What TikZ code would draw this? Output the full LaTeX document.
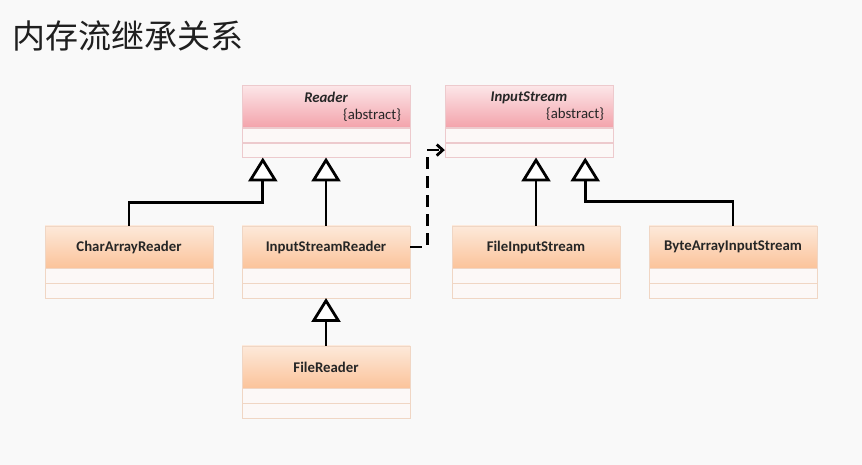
\documentclass[tikz,border=0pt]{standalone}
\usepackage{fontspec}
\setmainfont{Carlito}
\newfontfamily\cjk{Noto Sans CJK SC}
\usepackage{tikz}
\usetikzlibrary{shapes,arrows.meta,positioning}
\definecolor{pinktop}{HTML}{FCE6E8}
\definecolor{pinkbot}{HTML}{F3A3AB}
\definecolor{pinkline}{HTML}{EDCACD}
\definecolor{orangetop}{HTML}{FDE9DA}
\definecolor{orangebot}{HTML}{FBC39A}
\definecolor{orangeline}{HTML}{F0D6C4}
\definecolor{slotfill}{HTML}{FCF8F7}
\definecolor{bg}{HTML}{F9F9F9}
\tikzstyle{classhead} = [draw, rectangle, minimum width=168pt, minimum height=42pt, inner sep=0pt, text=black!85, font=\fontsize{14.8}{17}\selectfont\bfseries]
\tikzstyle{abstracthead} = [classhead, draw=pinkline, top color=pinktop, bottom color=pinkbot, text width=150pt, align=center]
\tikzstyle{concretehead} = [classhead, draw=orangeline, top color=orangetop, bottom color=orangebot]
\tikzstyle{slot} = [draw, fill=slotfill, rectangle, minimum width=168pt, minimum height=14.5pt, inner sep=0pt]
\tikzstyle{inherit} = [line width=2.8pt, -{Triangle[width=29pt,length=24pt,fill=white]}]
\tikzstyle{realize} = [line width=2.8pt, dash pattern=on 12pt off 7pt, -{Straight Barb[length=6pt,width=11pt]}]

\begin{document}
\begin{tikzpicture}[auto, x=1pt, y=1pt]
		\fill [bg] (0,0) rectangle (862,465);
		\useasboundingbox (0,0) rectangle (862,465);
		\node [anchor=west, inner sep=0pt, font=\cjk\fontsize{33}{36}\selectfont, text=black!88] (title) at (12,429) {内存流继承关系};
		
		% abstract classes
		\node [abstracthead] (reader) at (326,358.5) {\itshape Reader\\ \hfill\mdseries\upshape\{abstract\}};
		\node [slot, draw=pinkline, below=0pt of reader] (reader-attr) {};
		\node [slot, draw=pinkline, below=0pt of reader-attr] (reader-ops) {};
		\node [abstracthead, right of=reader, node distance=203pt] (istream) {\itshape InputStream\\ \hfill\mdseries\upshape\{abstract\}};
		\node [slot, draw=pinkline, below=0pt of istream] (istream-attr) {};
		\node [slot, draw=pinkline, below=0pt of istream-attr] (istream-ops) {};
		
		% concrete classes
		\node [concretehead] (chararray) at (129,218) {CharArrayReader};
		\node [slot, draw=orangeline, below=0pt of chararray] (chararray-attr) {};
		\node [slot, draw=orangeline, below=0pt of chararray-attr] (chararray-ops) {};
		\node [concretehead, right of=chararray, node distance=197pt] (isreader) {InputStreamReader};
		\node [slot, draw=orangeline, below=0pt of isreader] (isreader-attr) {};
		\node [slot, draw=orangeline, below=0pt of isreader-attr] (isreader-ops) {};
		\node [concretehead, right of=isreader, node distance=210pt] (fileis) {FileInputStream};
		\node [slot, draw=orangeline, below=0pt of fileis] (fileis-attr) {};
		\node [slot, draw=orangeline, below=0pt of fileis-attr] (fileis-ops) {};
		\node [concretehead, right of=fileis, node distance=197pt] (bytes) {ByteArrayInputStream};
		\node [slot, draw=orangeline, below=0pt of bytes] (bytes-attr) {};
		\node [slot, draw=orangeline, below=0pt of bytes-attr] (bytes-ops) {};
		\node [concretehead, below of=isreader, node distance=120pt] (filereader) {FileReader};
		\node [slot, draw=orangeline, below=0pt of filereader] (filereader-attr) {};
		\node [slot, draw=orangeline, below=0pt of filereader-attr] (filereader-ops) {};
		
		
		\draw [inherit] (chararray.north) -- ++(0,23) -| ([xshift=21pt]reader-ops.south west);
		\draw [inherit] (isreader.north) -- (reader-ops.south);
		\draw [inherit] (fileis.north) -- (fileis.north |- istream-ops.south);
		\draw [inherit] (bytes.north) -- ++(0,24) -| ([xshift=-28pt]istream-ops.south east);
		\draw [inherit] (filereader.north) -- (isreader-ops.south);
		\draw [realize] (isreader.east) -- ++(17,0) |- (istream-ops.west);
		
		
		\end{tikzpicture}
\end{document}
